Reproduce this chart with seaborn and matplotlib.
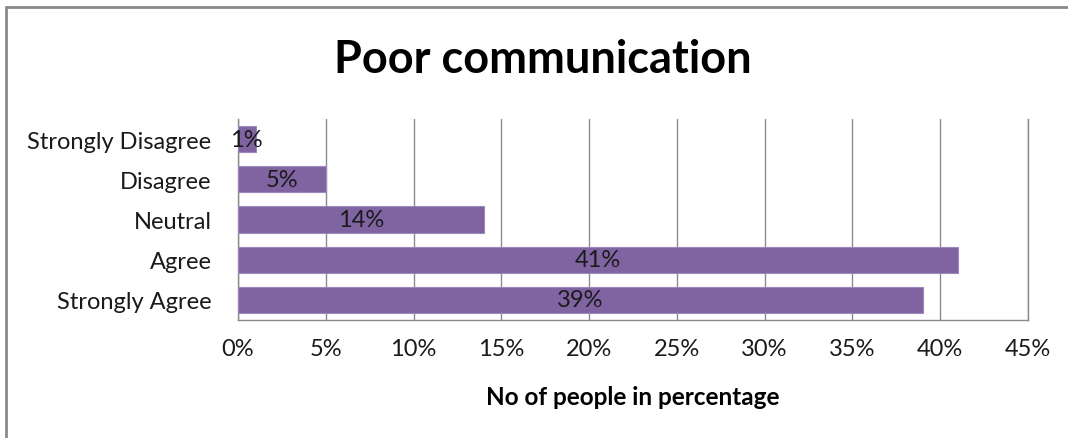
import matplotlib
matplotlib.use("Agg")
import matplotlib.pyplot as plt
import seaborn as sns
import pandas as pd
from matplotlib.lines import Line2D
from matplotlib.ticker import FuncFormatter, MultipleLocator

# Survey responses on poor communication
responses = ["Strongly Disagree", "Disagree", "Neutral", "Agree", "Strongly Agree"]
percent = [1, 5, 14, 41, 39]

df = pd.DataFrame({"response": responses, "percent": percent})

sns.set_theme(style="white")
plt.rcParams["font.family"] = ["Lato", "DejaVu Sans"]

W, H = 1068, 439
fig = plt.figure(figsize=(W / 100, H / 100), dpi=100)
ax = fig.add_axes([238 / W, 1 - 321 / H, (1028 - 238) / W, (321 - 120) / H])

sns.barplot(data=df, x="percent", y="response", orient="h", order=responses,
            color="#8064A2", saturation=1, width=0.65, ax=ax,
            edgecolor="#9d87bb", linewidth=0.8, zorder=3)

grid_col = "#8a8a8a"
ax.set_xlim(0, 45)
ax.xaxis.set_major_locator(MultipleLocator(5))
ax.xaxis.set_major_formatter(FuncFormatter(lambda v, p: f"{v:.0f}%"))
ax.grid(axis="x", color=grid_col, linewidth=1.0, zorder=0)
ax.grid(axis="y", visible=False)
ax.spines["top"].set_visible(False)
for side in ("left", "bottom", "right"):
    ax.spines[side].set_color(grid_col)
    ax.spines[side].set_linewidth(1.0)
ax.tick_params(axis="both", length=0, labelsize=17, colors="#1a1a1a")
ax.tick_params(axis="x", pad=13)
ax.tick_params(axis="y", pad=19)

ax.set_ylabel("")
ax.set_xlabel("No of people in percentage", fontsize=17.5, fontweight="bold",
              color="#000000", labelpad=19)

for container in ax.containers:
    ax.bar_label(container, labels=[f"{v}%" for v in percent], label_type="center",
                 fontsize=17, color="#1a1a1a")

fig.text(543 / W, 1 - 60 / H, "Poor communication", ha="center", va="center",
         fontsize=32.5, fontweight="bold", color="#000000")

# chart frame: top and left edges
frame_kw = dict(transform=fig.transFigure, color=grid_col, linewidth=2.0)
fig.add_artist(Line2D([6 / W, 1.0], [1 - 8 / H, 1 - 8 / H], **frame_kw))
fig.add_artist(Line2D([6 / W, 6 / W], [0.0, 1 - 8 / H], **frame_kw))

fig.savefig("out.png", dpi=100, facecolor="white")
